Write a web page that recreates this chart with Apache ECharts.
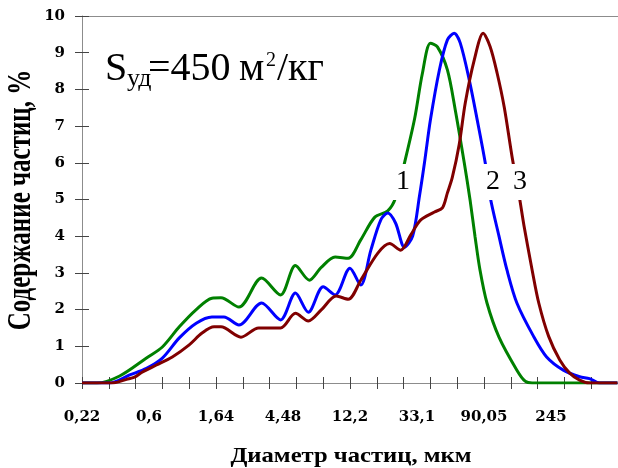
<!DOCTYPE html>
<html><head><meta charset="utf-8">
<script src="https://cdn.jsdelivr.net/npm/echarts@6/dist/echarts.min.js"></script>
<style>html,body{margin:0;padding:0;background:#fff}#c{width:618px;height:468px}</style>
</head><body><div id="c"></div>
<script>
// x tick labels (particle diameter, µm) on a natural-log scale starting at 0.22
const tickLabels = ['0,22', '0,6', '1,64', '4,48', '12,2', '33,1', '90,05', '245'];
const X0 = 0.22;
const yTicks = [0, 1, 2, 3, 4, 5, 6, 7, 8, 9, 10];

// curve 1 (green)
const diam1 = [0.22, 0.275, 0.386, 0.576, 0.730, 0.940, 1.21, 1.53, 1.75, 2.29, 3.21, 4.26, 5.32, 6.55, 7.82, 9.62, 11.7, 14.1, 17.4, 21.1, 23.7, 27.1, 31.5, 35.4, 39.9, 44.3, 51.4, 57.8, 66.1, 72.3, 77.7, 83.6, 92.8, 111, 145, 164, 182, 650];
const pct1  = [0, 0, 0.19, 0.68, 0.98, 1.53, 2.0, 2.31, 2.32, 2.07, 2.86, 2.4, 3.2, 2.8, 3.15, 3.43, 3.4, 3.9, 4.52, 4.69, 5.04, 6.0, 7.2, 8.44, 9.26, 9.16, 8.53, 7.44, 6.0, 4.95, 3.98, 3.08, 2.18, 1.25, 0.35, 0.05, 0, 0];

// curve 2 (blue)
const diam2 = [0.22, 0.333, 0.448, 0.576, 0.730, 0.940, 1.21, 1.53, 1.83, 2.29, 3.21, 4.26, 5.32, 6.45, 8.05, 9.62, 12.0, 14.1, 16.4, 19.0, 21.1, 23.7, 27.1, 30.6, 33.9, 36.5, 39.9, 45.6, 51.4, 56.9, 62.3, 71.2, 80.2, 90.4, 97.3, 111, 125, 145, 186, 226, 290, 370, 429, 498, 650];
const pct2  = [0, 0, 0.22, 0.4, 0.68, 1.23, 1.63, 1.8, 1.8, 1.58, 2.18, 1.72, 2.45, 1.93, 2.62, 2.4, 3.13, 2.67, 3.62, 4.44, 4.63, 4.36, 3.7, 4.0, 5.1, 6.0, 7.17, 8.53, 9.35, 9.53, 9.26, 8.26, 7.17, 6.0, 5.07, 4.0, 3.08, 2.18, 1.27, 0.71, 0.35, 0.17, 0.12, 0, 0];

// curve 3 (dark red)
const diam3 = [0.22, 0.348, 0.428, 0.482, 0.543, 0.668, 0.847, 1.09, 1.32, 1.58, 1.75, 2.36, 3.07, 4.26, 5.32, 6.45, 7.82, 9.77, 11.7, 14.1, 18.2, 21.7, 25.6, 29.7, 34.4, 42.4, 47.7, 51.4, 55.3, 61.3, 67.1, 76.7, 87.7, 97.3, 108, 120, 135, 150, 161, 182, 201, 233, 275, 319, 370, 429, 650];
const pct3  = [0, 0, 0.1, 0.16, 0.3, 0.49, 0.71, 1.04, 1.36, 1.53, 1.53, 1.25, 1.5, 1.5, 1.9, 1.69, 1.99, 2.37, 2.28, 2.8, 3.54, 3.8, 3.62, 4.03, 4.44, 4.66, 4.77, 5.18, 5.6, 6.5, 7.63, 8.8, 9.53, 9.16, 8.44, 7.52, 6.16, 5.1, 4.3, 3.08, 2.18, 1.27, 0.63, 0.27, 0.08, 0, 0];

const curveNames = ['1', '2', '3'];
const colors = ['#008000', '#0000ff', '#800000'];

const toPts = (d, p) => d.map((v, i) => [Math.log(v / X0), p[i]]);
const chart = echarts.init(document.getElementById('c'), null, {renderer: 'canvas'});

const TNR = 'Liberation Serif';
const labelFont = {fontFamily: 'DejaVu Serif', fontWeight: 'bold', fontSize: 15, color: '#000'};
const axisGray = '#8c8c8c';
const tickCol = '#444';

const option = {
  animation: false,
  backgroundColor: '#fff',
  grid: {left: 82, top: 16, width: 540, height: 367, containLabel: false},
  xAxis: [
    {type: 'value', position: 'bottom', min: 0, max: 8, interval: 1,
     axisLine: {show: true, lineStyle: {color: axisGray, width: 1}},
     axisTick: {show: false}, splitLine: {show: false},
     axisLabel: Object.assign({margin: 27, showMaxLabel: false,
       formatter: v => { const i = Math.round(v); return Math.abs(v - i) < 1e-6 && i < tickLabels.length ? tickLabels[i] : ''; }}, labelFont)},
    {type: 'value', position: 'bottom', min: 0, max: 8, interval: 0.4,
     axisLine: {show: false}, axisLabel: {show: false}, splitLine: {show: false},
     axisTick: {show: true, length: 6, lineStyle: {color: tickCol}}},
    {type: 'value', position: 'bottom', min: 0, max: 8, interval: 0.4,
     axisLine: {show: false}, axisLabel: {show: false}, splitLine: {show: false},
     axisTick: {show: true, inside: true, length: 6, lineStyle: {color: tickCol}}},
    {type: 'value', position: 'top', min: 0, max: 8,
     axisLine: {show: true, lineStyle: {color: axisGray}}, axisLabel: {show: false},
     axisTick: {show: false}, splitLine: {show: false}}
  ],
  yAxis: [
    {type: 'value', min: yTicks[0], max: yTicks[yTicks.length - 1], interval: 1, position: 'left',
     axisLine: {show: true, lineStyle: {color: axisGray}}, splitLine: {show: false},
     axisTick: {show: true, length: 7, lineStyle: {color: tickCol}},
     axisLabel: Object.assign({margin: 17}, labelFont)},
    {type: 'value', min: yTicks[0], max: yTicks[yTicks.length - 1], interval: 1, position: 'left',
     axisLine: {show: false}, splitLine: {show: false}, axisLabel: {show: false},
     axisTick: {show: true, inside: true, length: 7, lineStyle: {color: tickCol}}}
  ],
  series: [
    {name: curveNames[0], type: 'line', data: toPts(diam1, pct1)},
    {name: curveNames[1], type: 'line', data: toPts(diam2, pct2)},
    {name: curveNames[2], type: 'line', data: toPts(diam3, pct3)}
  ].map((s, i) => Object.assign(s, {xAxisIndex: 0, yAxisIndex: 0, showSymbol: false, smooth: 0.3,
      lineStyle: {color: colors[i], width: 3}, itemStyle: {color: colors[i]}, z: 3})),
  graphic: [
    // axis titles
    {type: 'text', x: 21, y: 200, rotation: Math.PI / 2, scaleY: 1.35, z: 10,
     style: {text: 'Содержание частиц, %', fontFamily: TNR, fontWeight: 'bold', fontSize: 25, fill: '#000', align: 'center', verticalAlign: 'middle'}},
    {type: 'text', x: 351, y: 456, scaleX: 1.12, z: 10,
     style: {text: 'Диаметр частиц, мкм', fontFamily: TNR, fontWeight: 'bold', fontSize: 22, fill: '#000', align: 'center', verticalAlign: 'middle'}},
    // specific surface annotation
    {type: 'text', x: 105, y: 69, z: 10, style: {text: 'S', fontFamily: TNR, fontSize: 40, fill: '#000', align: 'left', verticalAlign: 'middle'}},
    {type: 'text', x: 127, y: 79, z: 10, style: {text: 'уд', fontFamily: TNR, fontSize: 26, fill: '#000', align: 'left', verticalAlign: 'middle'}},
    {type: 'text', x: 148, y: 69, z: 10, style: {text: '=450', fontFamily: TNR, fontSize: 40, fill: '#000', align: 'left', verticalAlign: 'middle'}},
    {type: 'text', x: 239, y: 69, z: 10, style: {text: 'м', fontFamily: TNR, fontSize: 40, fill: '#000', align: 'left', verticalAlign: 'middle'}},
    {type: 'text', x: 266, y: 61, z: 10, style: {text: '2', fontFamily: TNR, fontSize: 20, fill: '#000', align: 'left', verticalAlign: 'middle'}},
    {type: 'text', x: 277, y: 69, z: 10, style: {text: '/кг', fontFamily: TNR, fontSize: 40, fill: '#000', align: 'left', verticalAlign: 'middle'}},
    // curve numbers (white boxes cut the lines as in the original)
    {type: 'text', x: 403, y: 182, z: 20, style: {text: '1', fontFamily: TNR, fontSize: 28, fill: '#000', align: 'center', verticalAlign: 'middle', backgroundColor: '#fff', padding: [4, 3, 4, 3]}},
    {type: 'text', x: 493, y: 182, z: 20, style: {text: '2', fontFamily: TNR, fontSize: 28, fill: '#000', align: 'center', verticalAlign: 'middle', backgroundColor: '#fff', padding: [4, 3, 4, 3]}},
    {type: 'text', x: 520, y: 182, z: 20, style: {text: '3', fontFamily: TNR, fontSize: 28, fill: '#000', align: 'center', verticalAlign: 'middle', backgroundColor: '#fff', padding: [4, 3, 4, 3]}}
  ]
};
chart.setOption(option);
</script></body></html>
